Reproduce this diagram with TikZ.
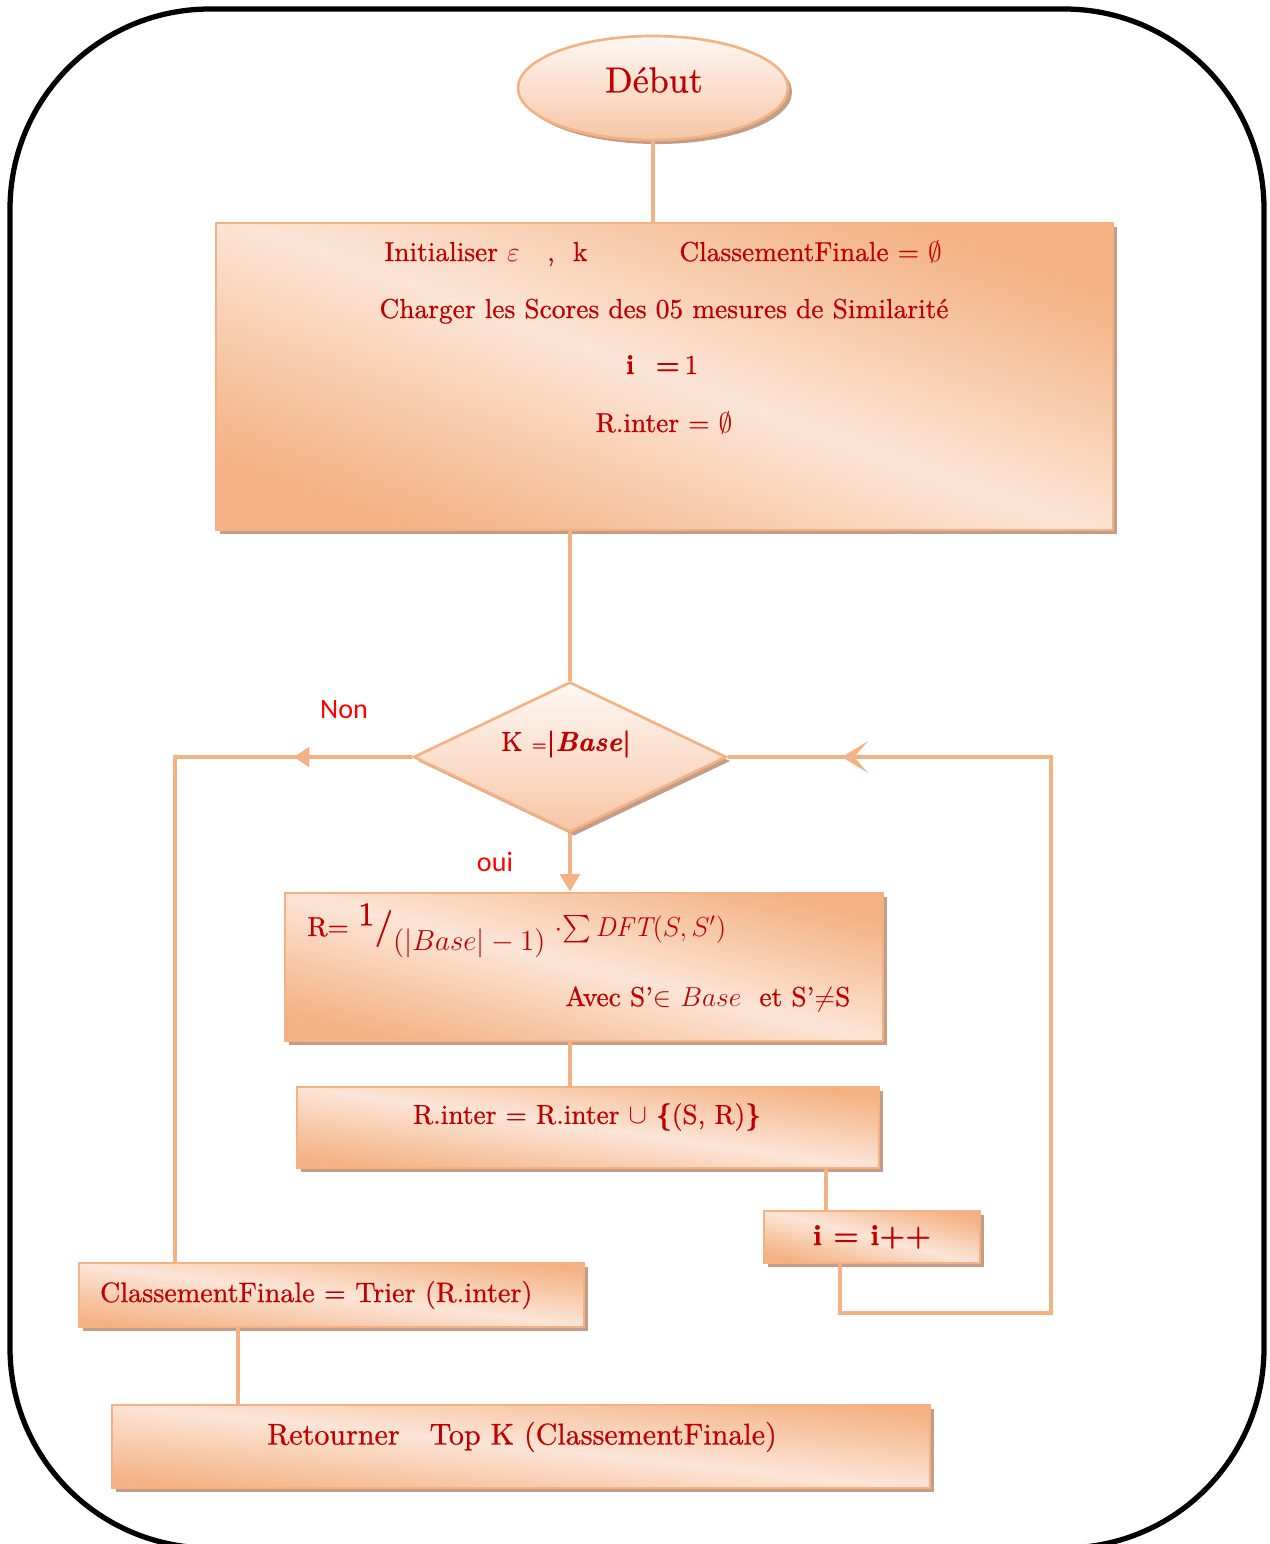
\RequirePackage{fix-cm}
\documentclass[tikz,border=0pt]{standalone}
\usepackage{fontspec}
\usepackage{amsmath,amssymb}
\usetikzlibrary{shapes.geometric,shadows,arrows.meta,decorations.markings}
\newfontfamily\etiqfont{Carlito}
\newfontfamily\boitefont{lmroman10-regular.otf}[BoldFont=lmroman10-bold.otf, ItalicFont=lmroman10-italic.otf, BoldItalicFont=lmroman10-bolditalic.otf, FakeBold=0.7]
\definecolor{peche}{HTML}{F4B183}
\definecolor{pecheclair}{HTML}{FBE5D6}
\definecolor{pechehaut}{HTML}{FFF8F4}
\definecolor{pechebas}{HTML}{F6C6A6}
\definecolor{ombre}{HTML}{C29E86}
\definecolor{rougefonce}{HTML}{C00000}
\definecolor{rougevif}{HTML}{FF0000}
\begin{document}
\begin{tikzpicture}
[x=0.02cm, y=-0.02cm,
 boite/.style={draw=peche, line width=1.5pt, left color=peche, right color=peche, middle color=pecheclair, shading angle=#1, inner sep=0pt, text=rougefonce, font=\boitefont\fontsize{16}{19}\selectfont, drop shadow={shadow xshift=2.3pt, shadow yshift=-2.3pt, fill=ombre, opacity=1}},
 boite/.default=166,
 ovale/.style={shape=ellipse, draw=peche, line width=1.5pt, top color=pechehaut, bottom color=pechebas, inner sep=0pt, drop shadow={shadow xshift=2.3pt, shadow yshift=-2.3pt, fill=ombre, opacity=1}},
 losange/.style={shape=diamond, draw=peche, line width=1.5pt, top color=pechehaut, bottom color=pechebas, inner sep=0pt, drop shadow={shadow xshift=2.3pt, shadow yshift=-2.3pt, fill=ombre, opacity=1}},
 texte/.style={inner sep=0pt, text=rougefonce, font=\boitefont\fontsize{15.6}{19}\selectfont},
 etiquette/.style={inner sep=0pt, text=rougevif, font=\etiqfont\fontsize{16}{19}\selectfont},
 lien/.style={color=peche, line width=2.8pt},
 flechemilieu/.style={postaction={decorate}, decoration={markings, mark=at position #1 with {\arrow{Triangle[length=9pt,width=11pt]}}}},
 chevron/.style={postaction={decorate}, decoration={markings, mark=at position #1 with {\arrow{Stealth[length=15pt,width=18pt,inset=8pt]}}}},
 cadre/.style={draw=black, line width=3pt, rounded corners=4cm}]
\clip (0,0) rectangle (1269,1544);
\draw [cadre] (10,9) rectangle (1264,1548);
\node [ovale, minimum width=5.4cm, minimum height=2.08cm] (debut) at (653,88) {};
\node [texte, font=\boitefont\fontsize{20.5}{24}\selectfont] (debutT) at (654,80) {Début};
\node [boite=160, minimum width=17.94cm, minimum height=6.14cm] (init) at (664.5,376.5) {};
\node [texte, anchor=base west] (initA) at (384,261) {Initialiser $\varepsilon$\ \ \ ,\ \ k};
\node [texte, anchor=base west] (initB) at (679,261) {ClassementFinale = $\emptyset$};
\node [texte, anchor=base] (initC) at (664,318) {Charger les Scores des 05 mesures de Similarité};
\node [texte, anchor=base] (initD) at (662,374) {\textbf{i\ \ =}\,1};
\node [texte, anchor=base] (initE) at (664,432) {R.inter = $\emptyset$};
\node [losange, minimum width=6.26cm, minimum height=3cm] (dec) at (570,757) {};
\node [texte] (decT) at (566,744) {K {\fontsize{11}{12}\selectfont =}\textbf{|}\textbf{\textit{Base}}\textbf{|}};
\node [etiquette] (non) at (344,710) {Non};
\node [etiquette] (oui) at (495,862) {oui};
\node [boite=166, minimum width=11.96cm, minimum height=2.96cm] (rbox) at (584,967) {};
\node [texte, anchor=base west] (rform) at (307,936) {R= \raisebox{6pt}{\fontsize{19}{19}\selectfont 1}\raisebox{-1pt}{\fontsize{21}{21}\selectfont /}\raisebox{-8pt}{\fontsize{16.5}{19}\selectfont $(|Base|-1)$}\ $\cdot\!\sum \mathit{DFT}(S,S')$};
\node [texte, anchor=base west] (ravec) at (565,1006) {Avec S’$\in$ $Base$\ \ et S’$\neq$S};
\node [boite=172, minimum width=11.64cm, minimum height=1.62cm] (rinter) at (588,1127.5) {};
\node [texte] (rinterT) at (587,1117) {R.inter = R.inter $\cup$ \textbf{\{}(S, R)\textbf{\}}};
\node [boite=166, minimum width=4.32cm, minimum height=1.04cm, font=\boitefont\bfseries\fontsize{16.5}{20}\selectfont] (incr) at (872,1237) {i = i++};
\node [boite=173, minimum width=10.1cm, minimum height=1.28cm, text width=9.26cm, inner xsep=0.42cm, align=left, font=\boitefont\fontsize{16}{19}\selectfont] (final) at (331.5,1295) {ClassementFinale = Trier (R.inter)};
\node [boite=174, minimum width=16.36cm, minimum height=1.66cm] (ret) at (521,1446.5) {};
\node [texte, font=\boitefont\fontsize{17.1}{21}\selectfont] (retT) at (522,1437) {Retourner\ \ \ Top K (ClassementFinale)};
\coordinate (nonC) at (175,757);
\coordinate (boucleA) at (840,1313);
\coordinate (boucleB) at (1051,1313);
\coordinate (joinR) at (826,1168);
\coordinate (joinF) at (238,1327);
\draw [lien] (debut.south) -- (debut.south |- init.north);
\draw [lien] (dec.north |- init.south) -- (dec.north);
\draw [lien, flechemilieu=0.16] (dec.west) -- (nonC) -- (nonC |- final.north);
\draw [lien, -{Triangle[length=10pt,width=11pt]}] (dec.south) -- (dec.south |- rbox.north);
\draw [lien] (dec.south |- rbox.south) -- (dec.south |- rinter.north);
\draw [lien] (joinR) -- (joinR |- incr.north);
\draw [lien, chevron=0.9] (boucleA |- incr.south) -- (boucleA) -- (boucleB) -- (boucleB |- dec.east) -- (dec.east);
\draw [lien] (joinF) -- (joinF |- ret.north);
\end{tikzpicture}
\end{document}
